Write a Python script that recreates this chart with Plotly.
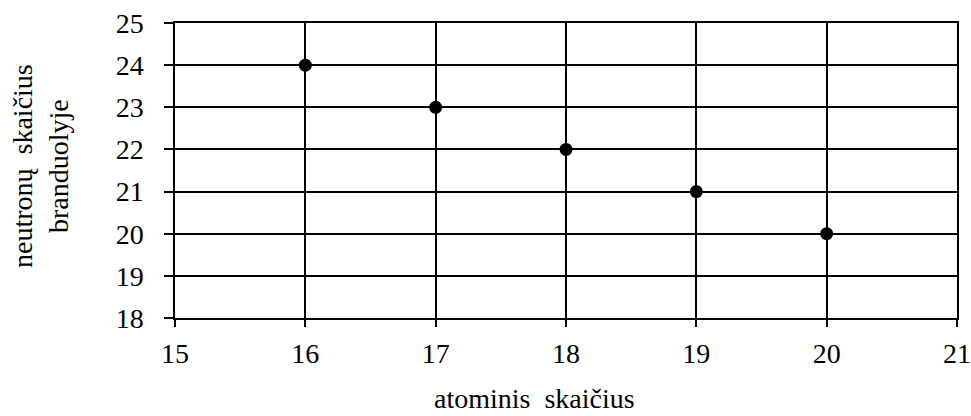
import plotly.graph_objects as go

atomic_number = [16, 17, 18, 19, 20]
neutron_count = [24, 23, 22, 21, 20]
x_ticks = [15, 16, 17, 18, 19, 20, 21]
y_ticks = [18, 19, 20, 21, 22, 23, 24, 25]
x_title = "atominis&nbsp;&nbsp;skaičius"
y_title = "neutronų&nbsp;&nbsp;skaičius<br>branduolyje"

FONT = "Liberation Serif"
W, H = 971, 416
ML, MR, MT, MB = 175, 14, 23, 98

fig = go.Figure()
fig.add_trace(go.Scatter(
    x=atomic_number, y=neutron_count, mode="markers",
    marker=dict(color="black", size=13),
    showlegend=False, cliponaxis=False,
))

fig.update_layout(
    width=W, height=H,
    margin=dict(l=ML, r=MR, t=MT, b=MB),
    paper_bgcolor="white", plot_bgcolor="white",
    font=dict(family=FONT, size=28, color="black"),
)
fig.update_xaxes(
    range=[15, 21], tickvals=x_ticks, ticktext=[str(v) for v in x_ticks],
    showgrid=True, gridcolor="black", gridwidth=1.5,
    showline=True, linecolor="black", linewidth=1.5, mirror=True,
    ticks="outside", ticklen=7, tickcolor="black", tickwidth=1.5,
    ticklabelstandoff=3, automargin=False,
    zeroline=False, tickfont=dict(family=FONT, size=28),
)
fig.update_yaxes(
    range=[18, 25], tickvals=y_ticks, ticktext=[str(v) for v in y_ticks],
    showgrid=True, gridcolor="black", gridwidth=1.5,
    showline=True, linecolor="black", linewidth=1.5, mirror=True,
    ticks="outside", ticklen=9, tickcolor="black", tickwidth=1.5,
    ticklabelstandoff=15, automargin=False,
    zeroline=False, tickfont=dict(family=FONT, size=28),
)

fig.add_annotation(
    text=x_title, xref="paper", yref="paper",
    x=(534 - ML) / (W - ML - MR), y=(H - MB - 399) / (H - MT - MB),
    showarrow=False, font=dict(family=FONT, size=28), borderpad=0,
    xanchor="center", yanchor="middle",
)
fig.add_annotation(
    text=y_title, xref="paper", yref="paper",
    x=(40 - ML) / (W - ML - MR), y=(H - MB - 166) / (H - MT - MB),
    showarrow=False, textangle=-90, font=dict(family=FONT, size=28),
    xanchor="center", yanchor="middle",
)

fig.write_html(
    "out.html",
    config={"displayModeBar": False},
    post_script="document.body.style.margin='0';document.body.style.overflow='hidden';",
)
